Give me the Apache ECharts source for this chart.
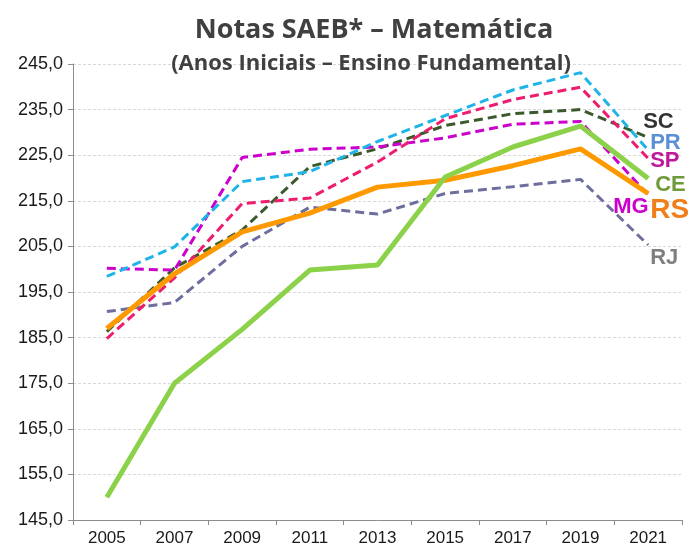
<!DOCTYPE html>
<html>
<head>
<meta charset="utf-8">
<title>Notas SAEB - Matemática</title>
<script src="https://cdn.jsdelivr.net/npm/echarts@6/dist/echarts.min.js"></script>
<style>
  html, body { margin: 0; padding: 0; background: #fff; }
  #chart { width: 690px; height: 551px; }
</style>
</head>
<body>
<div id="chart"></div>
<script>
// anos das provas
const years = ['2005', '2007', '2009', '2011', '2013', '2015', '2017', '2019', '2021']

// notas por estado
const scNotas = [186.3, 200.3, 208.6, 222.5, 226.4, 231.5, 234.1, 235.0, 228.9]
const prNotas = [198.4, 204.9, 219.2, 221.4, 228.0, 233.7, 239.3, 243.1, 226.1]
const spNotas = [184.8, 198.1, 214.4, 215.6, 223.5, 233.0, 237.2, 239.9, 224.3]
const mgNotas = [200.2, 199.8, 224.5, 226.3, 226.8, 228.8, 231.8, 232.4, 216.3]
const rjNotas = [190.7, 192.7, 205.0, 213.6, 212.1, 216.6, 218.1, 219.7, 205.3]
const ceNotas = [150.0, 175.0, 186.8, 199.8, 200.9, 220.2, 226.8, 231.4, 219.9]
const rsNotas = [187.0, 199.0, 208.2, 212.3, 218.0, 219.5, 222.7, 226.4, 216.6]

const chart = echarts.init(document.getElementById('chart'))

// linha tracejada ou cheia, com rótulo no fim
const serie = (name, data, color, labelColor, dashed, offset, fontSize) => ({
  name,
  type: 'line',
  data,
  symbol: 'none',
  lineStyle: {
    color,
    width: dashed ? 3 : 5,
    type: dashed ? [9, 5] : 'solid'
  },
  endLabel: {
    show: true,
    formatter: name,
    color: labelColor,
    fontFamily: 'Liberation Sans, Arial, sans-serif',
    fontWeight: 'bold',
    fontSize: fontSize || 22,
    distance: 0,
    offset
  }
})

chart.setOption({
  animation: false,
  title: [
    {
      text: 'Notas SAEB* – Matemática',
      left: 369,
      top: 12,
      textAlign: 'center',
      textStyle: { fontFamily: 'Open Sans', fontWeight: 'bold', fontSize: 27, color: '#404040' }
    },
    {
      text: '(Anos Iniciais – Ensino Fundamental)',
      left: 366,
      top: 48,
      textAlign: 'center',
      textStyle: { fontFamily: 'Open Sans', fontWeight: 'bold', fontSize: 22, color: '#404040' }
    }
  ],
  grid: { left: 73, right: 8, top: 64, bottom: 31 },
  xAxis: {
    type: 'category',
    data: years,
    boundaryGap: true,
    axisLine: { lineStyle: { color: '#8c8c8c', width: 1 } },
    axisTick: { show: true, length: 5, lineStyle: { color: '#8c8c8c' } },
    axisLabel: {
      color: '#1a1a1a',
      fontFamily: 'Liberation Sans, Arial, sans-serif',
      fontSize: 17,
      margin: 10
    }
  },
  yAxis: {
    type: 'value',
    min: 145,
    max: 245,
    interval: 10,
    axisLine: { show: true, lineStyle: { color: '#8c8c8c', width: 1 } },
    axisTick: { show: true, length: 5, lineStyle: { color: '#8c8c8c' } },
    splitLine: { lineStyle: { color: '#d9d9d9', type: [3, 2] } },
    axisLabel: {
      color: '#1a1a1a',
      fontFamily: 'Liberation Sans, Arial, sans-serif',
      fontSize: 18,
      margin: 10,
      formatter: v => v.toFixed(1).replace('.', ',')
    }
  },
  series: [
    serie('RJ', rjNotas, '#6e6e9e', '#7f7f7f', true, [2, 13]),
    serie('SC', scNotas, '#3b5a2c', '#333333', true, [-5, -15]),
    serie('MG', mgNotas, '#cc00cc', '#cc00cc', true, [-35, 12]),
    serie('SP', spNotas, '#ee1c6e', '#c0189b', true, [2, 3]),
    serie('PR', prNotas, '#1fb4e8', '#5b8fd6', true, [2, -7]),
    serie('RS', rsNotas, '#ff9900', '#f07f1a', false, [2, 17], 28),
    serie('CE', ceNotas, '#8cd14a', '#6e9a3a', false, [7, 6])
  ]
})
</script>
</body>
</html>
